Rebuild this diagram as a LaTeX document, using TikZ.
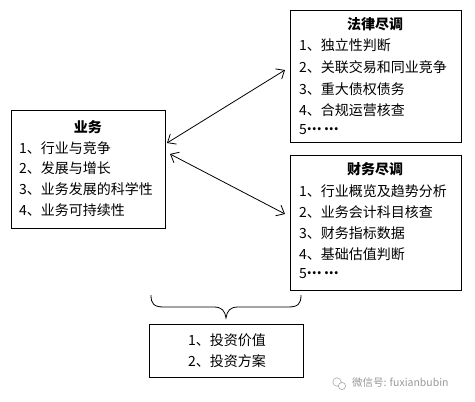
\documentclass[tikz,border=0pt]{standalone}
\usepackage{fontspec}
\newfontfamily\cjk{Noto Sans CJK SC}
\usetikzlibrary{arrows.meta}
\newcommand\middots{\raisebox{0.32em}{\textbf{...\,...}}}
\begin{document}
\begin{tikzpicture}[x=1pt,y=-1pt,
  box/.style={draw=black,line width=0.9pt,inner sep=0pt,anchor=north west},
  ttl/.style={font=\cjk\bfseries\fontsize{14}{16}\selectfont,inner sep=0pt,anchor=center},
  itm/.style={font=\cjk\fontsize{14}{16}\selectfont,inner sep=0pt,anchor=west},
  conn/.style={line width=0.8pt,{Straight Barb[length=7pt,width=12pt]}-{Straight Barb[length=7pt,width=12pt]}},
  wm/.style={font=\cjk\fontsize{10.5}{12}\selectfont,text=black!40,inner sep=0pt,anchor=west}]
\useasboundingbox (0,0) rectangle (475,402);
\fill[white] (0,0) rectangle (475,402);
% boxes
\node[box,minimum width=154pt,minimum height=118pt] (biz) at (11,110) {};
\node[box,minimum width=171pt,minimum height=132pt] (legal) at (290,10) {};
\node[box,minimum width=171pt,minimum height=135pt] (fin) at (290,155) {};
\node[box,minimum width=154pt,minimum height=53pt] (inv) at (149,324) {};
% business text
\node[ttl] (bizt) at (88,127) {业务};
\node[itm] (biz1) at (19,148) {1、行业与竞争};
\node[itm] (biz2) at (19,168) {2、发展与增长};
\node[itm] (biz3) at (19,189) {3、业务发展的科学性};
\node[itm] (biz4) at (19,210) {4、业务可持续性};
% legal text
\node[ttl] (legt) at (375,24) {法律尽调};
\node[itm] (leg1) at (299,45) {1、独立性判断};
\node[itm] (leg2) at (299,67) {2、关联交易和同业竞争};
\node[itm] (leg3) at (299,89) {3、重大债权债务};
\node[itm] (leg4) at (299,110) {4、合规运营核查};
\node[itm] (leg5) at (299,130) {5\middots};
% finance text
\node[ttl] (fint) at (375,169) {财务尽调};
\node[itm] (fin1) at (299,191) {1、行业概览及趋势分析};
\node[itm] (fin2) at (299,212) {2、业务会计科目核查};
\node[itm] (fin3) at (299,233) {3、财务指标数据};
\node[itm] (fin4) at (299,254) {4、基础估值判断};
\node[itm] (fin5) at (299,274) {5\middots};
% investment text
\node[itm] (inv1) at (188,340) {1、投资价值};
\node[itm] (inv2) at (188,361) {2、投资方案};
% arrows
\coordinate (a1s) at (167,143);
\coordinate (a1e) at (285,70);
\coordinate (a2s) at (170,154);
\coordinate (a2e) at (285,214);
\draw[conn] (a1s) -- (a1e);
\draw[conn] (a2s) -- (a2e);
% brace
\draw[line width=0.8pt] (151,295) .. controls (151,304) and (154,307) .. (164,307)
  -- (214,307) .. controls (222,307) and (225,311) .. (226,318)
  .. controls (227,311) and (230,307) .. (238,307)
  -- (288,307) .. controls (298,307) and (301,304) .. (301,295);
% watermark
\draw[black!35,line width=0.6pt] (337,382) circle (4.2pt);
\draw[black!35,line width=0.6pt,fill=white] (342,386) circle (3.6pt);
\node[wm] (wmt) at (352,383) {微信号: fuxianbubin};
\end{tikzpicture}
\end{document}
